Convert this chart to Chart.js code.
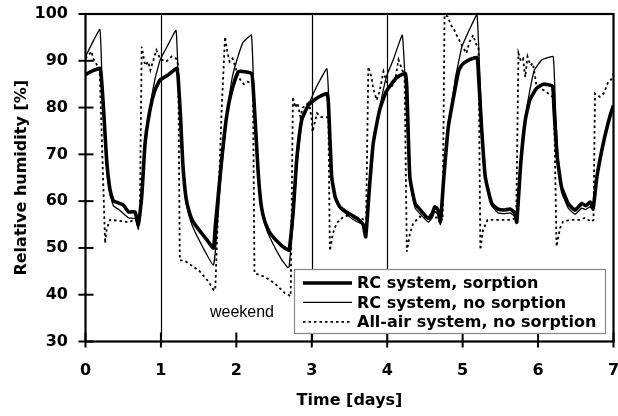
<!DOCTYPE html>
<html><head><meta charset="utf-8">
<script src="https://cdn.jsdelivr.net/npm/chart.js@4/dist/chart.umd.min.js"></script>
<style>html,body{margin:0;padding:0;background:#fff}#wrap{width:618px;height:416px}</style>
</head><body><div id="wrap"><canvas id="c" width="618" height="416"></canvas></div>
<script>
// ---- data (time in days, relative humidity in %) ----
const sorpT = [0,0.05,0.1,0.15,0.19,0.21,0.24,0.28,0.325,0.37,0.39,0.5,0.57,0.656,0.70,0.745,0.79,0.855,0.92,0.99,1.1,1.21,1.23,1.26,1.29,1.33,1.37,1.43,1.61,1.695,1.72,1.805,1.87,1.94,2.03,2.2,2.22,2.25,2.29,2.33,2.38,2.45,2.6,2.68,2.70,2.755,2.80,2.866,2.955,3.065,3.2,3.22,3.264,3.31,3.37,3.46,3.53,3.6,3.68,3.715,3.76,3.815,3.9,3.99,4.125,4.24,4.26,4.30,4.37,4.45,4.545,4.60,4.63,4.67,4.705,4.75,4.81,4.90,4.95,5.0,5.1,5.19,5.21,5.25,5.30,5.385,5.47,5.55,5.63,5.69,5.717,5.77,5.83,5.89,5.98,6.07,6.19,6.21,6.25,6.31,6.40,6.49,6.58,6.63,6.69,6.73,6.78,6.865,6.95,7.0];
const sorpV = [87.0,87.5,87.9,88.2,88.4,86.5,79.5,68.8,62.4,60.0,59.9,59.2,57.7,57.7,55.0,60.9,72.4,79.5,83.7,85.9,87.0,88.4,86,78,68,61,58,55.5,51.7,50.0,54.5,68.8,78.0,83.7,87.7,87.3,85,77,66,59,55.5,53.1,50.5,49.6,49.5,58.1,68.8,77.3,80.5,82.0,83.0,81,65.2,60.9,58.8,57.7,57.0,56.3,55.0,52.4,62,72.4,79.5,83.5,86.4,87.3,84,65.2,59.5,57.9,56.3,57.5,58.8,58.2,55.6,65,75.9,84.0,88.0,89.3,90.3,90.7,87,76,65.2,59.5,58.3,58.1,58.3,57.5,55.5,68,77.3,81.6,84.1,85.0,84.6,80,70,63.1,59.5,58.1,59.5,59.0,59.8,58.5,65.2,72.4,78.0,80.5];

const noSorpT = [0,0.19,0.22,0.25,0.28,0.325,0.37,0.45,0.57,0.66,0.70,0.745,0.79,0.855,0.92,0.99,1.08,1.2,1.23,1.27,1.32,1.37,1.43,1.6,1.695,1.72,1.80,1.87,1.94,2.0,2.09,2.2,2.23,2.28,2.33,2.38,2.45,2.6,2.68,2.70,2.755,2.80,2.87,2.955,3.065,3.2,3.23,3.264,3.31,3.37,3.46,3.53,3.6,3.68,3.715,3.76,3.815,3.9,3.99,4.08,4.2,4.24,4.27,4.30,4.37,4.45,4.545,4.6,4.63,4.67,4.705,4.75,4.81,4.9,4.99,5.1,5.19,5.23,5.27,5.30,5.385,5.47,5.55,5.63,5.69,5.717,5.77,5.83,5.85,5.95,6.05,6.2,6.23,6.27,6.31,6.40,6.49,6.58,6.63,6.69,6.73,6.78,6.865,6.95,7.0];
const noSorpV = [90.9,96.7,85,76,67,61.5,59,58.1,56.4,56.3,54.0,60,71,80,86,90.2,93,96.5,86,72,61,57,54.2,48.8,46.3,49,66,77.5,86,89.8,94,95.5,84,68,59,55,52,47.5,45.8,46,56,67,77,80.5,84.5,88.3,80,66,60.5,58.5,57.2,56.3,55.6,55,53,62,72.4,80,86.6,90.2,95.5,85,74,64,58.5,57,55.5,56.5,57.8,57.2,55,64.5,75.5,86,93,97,100,86,71,65,59,57.5,57.3,57.5,56.8,55.5,68,77,80,88,90.2,90.9,80,68,62,58.5,57.2,58.5,58.2,58.8,58,65,72.4,78,80.5];

const allAirT = [0,0.04,0.08,0.1,0.13,0.17,0.19,0.26,0.28,0.325,0.45,0.57,0.656,0.72,0.745,0.79,0.833,0.86,0.94,0.99,1.07,1.14,1.2,1.23,1.25,1.32,1.43,1.52,1.63,1.7,1.72,1.805,1.85,1.88,1.91,1.95,2.0,2.05,2.1,2.15,2.22,2.24,2.38,2.51,2.645,2.72,2.75,2.78,2.81,2.85,2.88,2.93,2.96,3.0,3.01,3.07,3.12,3.22,3.24,3.28,3.33,3.42,3.5,3.6,3.7,3.72,3.75,3.79,3.815,3.86,3.9,3.95,3.99,4.04,4.1,4.15,4.2,4.23,4.26,4.3,4.345,4.435,4.55,4.65,4.735,4.76,4.8,4.85,4.88,4.92,4.965,5.0,5.05,5.09,5.14,5.18,5.21,5.235,5.27,5.33,5.5,5.63,5.69,5.71,5.74,5.77,5.8,5.83,5.86,5.9,5.93,5.96,5.98,6.03,6.1,6.19,6.21,6.245,6.29,6.33,6.42,6.55,6.62,6.71,6.735,6.755,6.82,6.87,6.93,6.97,7.0];
const allAirV = [90.5,91.2,92,90.5,89.8,88.5,87,51,54,56,55.8,55.5,56,56,93,89,89.8,88,92.3,90.4,89.8,90.9,90.5,89,47.4,47.2,46,44.9,42.8,41,41,79.5,95.1,92,89.8,90.5,88,86,85,85.5,85.2,44.6,43.8,42.4,40.3,39.7,82.3,80,81,78,80,80.5,81.5,77.3,74.8,78.8,78,77.9,49.4,53.1,55.3,56.7,57,56.5,56,56,88.7,86.6,84.1,81.6,83.5,87.7,85.6,84.1,85.5,90.2,88,87,49.2,53,55.3,56.7,56.3,56.5,56,99.8,99.5,97.5,96.9,95.5,94.1,93,91.6,94,95.5,93.5,93,49.6,53.8,56,56,56,56.3,56,91.6,90,90.5,86.5,90.9,89,89.5,86.6,84.5,84.1,83.5,82.3,82,50.3,54.2,55.6,56,56,56.4,55.6,56,83,82.3,83,85.5,86,87.3];

const seriesLabels = ['RC system, sorption','RC system, no sorption','All-air system, no sorption'];
const xTicks = [0,1,2,3,4,5,6,7];
const yTicks = [30,40,50,60,70,80,90,100];
const markerDays = [1,3,4];
const noteText = 'weekend';
const noteDay = 1.65, noteRH = 35.3;

const pts = (ts, vs) => ts.map((t,i)=>({x:t,y:vs[i]}));
const boldFont = {family:'"DejaVu Sans", sans-serif', size:16, weight:'bold'};

const decor = {
  id:'decor',
  beforeDatasetsDraw(chart){
    const {ctx, chartArea:a, scales:{x}} = chart;
    ctx.save();
    ctx.strokeStyle='#000'; ctx.lineWidth=1.2;
    markerDays.forEach(d=>{
      const px = Math.round(x.getPixelForValue(d))+0.5;
      ctx.beginPath(); ctx.moveTo(px,a.top); ctx.lineTo(px,a.bottom); ctx.stroke();
    });
    ctx.restore();
  },
  afterDraw(chart){
    const {ctx, chartArea:a, scales:{x,y}} = chart;
    ctx.save();
    // frame
    ctx.strokeStyle='#000'; ctx.lineWidth=2.2;
    ctx.strokeRect(a.left, a.top, a.right-a.left, a.bottom-a.top);
    // ticks crossing the axes
    ctx.lineWidth=2;
    yTicks.forEach(v=>{
      const py = y.getPixelForValue(v);
      ctx.beginPath(); ctx.moveTo(a.left-7,py); ctx.lineTo(a.left+8,py); ctx.stroke();
    });
    xTicks.forEach(v=>{
      const px = x.getPixelForValue(v);
      ctx.beginPath(); ctx.moveTo(px,a.bottom-9); ctx.lineTo(px,a.bottom+6); ctx.stroke();
    });
    // annotation
    ctx.fillStyle='#000';
    ctx.font='16px "Liberation Sans", Arial, sans-serif';
    ctx.textAlign='left'; ctx.textBaseline='alphabetic';
    ctx.fillText(noteText, x.getPixelForValue(noteDay), y.getPixelForValue(noteRH));
    // legend box
    const bx=294, by=269, bw=311, bh=64;
    ctx.fillStyle='#fff'; ctx.fillRect(bx,by,bw,bh);
    ctx.strokeStyle='#888'; ctx.lineWidth=1.2; ctx.strokeRect(bx+0.5,by+0.5,bw,bh);
    ctx.font='bold 16px "DejaVu Sans", sans-serif';
    ctx.textBaseline='middle';
    chart.data.datasets.forEach((ds,i)=>{
      const cy = by+14+i*19.4;
      ctx.strokeStyle='#000'; ctx.lineWidth=ds.borderWidth;
      ctx.setLineDash(ds.borderDash||[]);
      ctx.beginPath(); ctx.moveTo(bx+9,cy); ctx.lineTo(bx+58,cy); ctx.stroke();
      ctx.setLineDash([]);
      ctx.fillStyle='#000';
      ctx.fillText(ds.label, bx+63, cy+1);
    });
    ctx.restore();
  }
};

new Chart(document.getElementById('c'), {
  type:'line',
  data:{datasets:[
    {label:seriesLabels[0], data:pts(sorpT,sorpV), borderColor:'#000', borderWidth:3.6, pointRadius:0, tension:0.15},
    {label:seriesLabels[1], data:pts(noSorpT,noSorpV), borderColor:'#000', borderWidth:1.3, pointRadius:0, tension:0.1},
    {label:seriesLabels[2], data:pts(allAirT,allAirV), borderColor:'#000', borderWidth:1.8, borderDash:[2.5,3], pointRadius:0, tension:0}
  ]},
  options:{
    responsive:false, animation:false, events:[],
    layout:{padding:{top:14,right:4.5,left:0,bottom:0}},
    plugins:{legend:{display:false}, tooltip:{enabled:false}},
    scales:{
      x:{type:'linear', min:0, max:7,
        afterBuildTicks:s=>{s.ticks = xTicks.map(v=>({value:v}));},
        ticks:{font:boldFont, color:'#000', padding:20, maxRotation:0, autoSkip:false},
        grid:{display:false, drawTicks:false}, border:{display:false},
        title:{display:true, text:'Time [days]', font:boldFont, color:'#000', padding:{top:0,bottom:6}},
        afterFit:s=>{s.height=74.5; s.paddingLeft=0; s.paddingRight=0;}
      },
      y:{min:30, max:100,
        afterBuildTicks:s=>{s.ticks = yTicks.map(v=>({value:v}));},
        ticks:{font:boldFont, color:'#000', padding:17.5, autoSkip:false},
        grid:{display:false, drawTicks:false}, border:{display:false},
        title:{display:true, text:'Relative humidity [%]', font:boldFont, color:'#000', padding:{top:12,bottom:0}},
        afterFit:s=>{s.width=85.5; s.paddingTop=0; s.paddingBottom=0;}
      }
    }
  },
  plugins:[decor]
});
</script></body></html>
